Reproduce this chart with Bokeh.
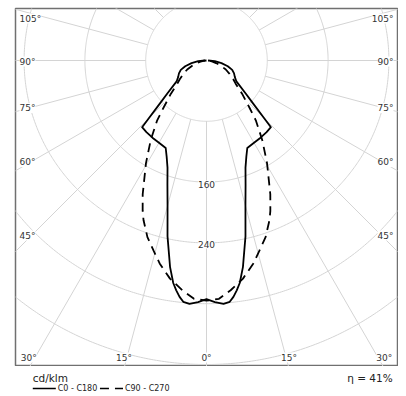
import numpy as np
from bokeh.plotting import figure
from bokeh.models import Range1d, Label
from bokeh.layouts import column
from bokeh.embed import file_html
from bokeh.resources import INLINE

# ---- data (cd/klm vs. angle from nadir, symmetric planes) ----
c0_angles = [0, 2, 4, 5.5, 6.5, 7.5, 8.5, 10, 12.5, 15, 17.5, 20, 22.5, 25, 30, 35, 40, 44,
             45, 47.5, 50, 55, 60, 65, 70, 75, 80, 85, 90]
c0_values = [314, 318, 321, 319, 313, 305, 296, 276, 237, 198, 171, 150, 137, 127, 125, 124,
             123, 122, 107, 82, 67, 48, 43, 40, 36, 29, 20, 11, 2]
c90_angles = [0, 3, 6, 9.5, 13, 15.5, 18.5, 21.5, 23, 25.5, 30.5, 35, 37, 39.5, 42.5,
              47, 51.5, 55, 60, 65, 70, 75, 80, 85, 90]
c90_values = [316, 314, 304, 291, 274, 260, 245, 226, 215, 195, 157, 128, 115, 102, 83,
              64, 49, 43, 35, 28, 20, 13, 8, 4, 0]
grid_radii = [80, 160, 240, 320, 400]
labelled_radii = ["160", "240"]
side_angles = [45, 60, 75, 90, 105]
bottom_angles = [0, 15, 30]
series_names = ["C0 - C180", "C90 - C270"]
unit_label = "cd/klm"
efficiency = "\u03b7 = 41%"

# ---- layout constants ----
S = 0.76              # px per cd/klm
FW, FH = 382, 358     # frame size in px
CX, CY = 191, 52      # polar centre inside frame (px from left / top)
ML, MT = 15, 8        # left / top border of the main figure
FONT = "DejaVu Sans"
GRID = "#d4d4d4"
TXT = "#333333"

p = figure(width=ML + FW + 1, height=MT + FH, output_backend="svg", toolbar_location=None,
           x_axis_type=None, y_axis_type=None,
           x_range=Range1d(-CX / S, (FW - CX) / S),
           y_range=Range1d(-(FH - CY) / S, CY / S),
           min_border_left=ML, min_border_right=1, min_border_top=MT, min_border_bottom=0)
p.outline_line_color = "#707070"
p.outline_line_width = 1.5
p.background_fill_color = "white"
p.border_fill_color = "white"

# circles
t = np.linspace(0, 2 * np.pi, 721)
p.multi_line([list(r * np.cos(t)) for r in grid_radii],
             [list(r * np.sin(t)) for r in grid_radii],
             line_color=GRID, line_width=1)

# radial lines every 15 deg, starting at the first circle
xs, ys = [], []
for a in range(0, 181, 15):
    ar = np.radians(a)
    for sgn in (-1, 1):
        xs.append([sgn * grid_radii[0] * np.sin(ar), sgn * 900 * np.sin(ar)])
        ys.append([-grid_radii[0] * np.cos(ar), -900 * np.cos(ar)])
p.multi_line(xs, ys, line_color=GRID, line_width=1)


def curve(angles, values):
    a = np.radians(np.array(angles, float))
    v = np.array(values, float)
    xl = -v[::-1] * np.sin(a[::-1])
    yl = -v[::-1] * np.cos(a[::-1])
    xr = v[1:] * np.sin(a[1:])
    yr = -v[1:] * np.cos(a[1:])
    return np.concatenate([xl, xr]), np.concatenate([yl, yr])


x0, y0 = curve(c0_angles, c0_values)
x9, y9 = curve(c90_angles, c90_values)
p.line(x9, y9, line_color="black", line_width=1.8, line_dash="9 6")
p.line(x0, y0, line_color="black", line_width=1.8, line_join="round")

# circle value labels
for lab in labelled_radii:
    r = float(lab)
    p.add_layout(Label(x=0, y=-r - 2 / S, text=lab, text_align="center",
                       text_baseline="middle", text_font=FONT, text_font_size="9px",
                       text_color=TXT, background_fill_color="white"))

# side angle labels
for a in side_angles:
    ar = np.radians(a)
    off = -174 * np.cos(ar) / np.sin(ar) - 1
    off = min(off, 42)
    for sgn, align in ((-1, "left"), (1, "right")):
        p.add_layout(Label(x=sgn * (CX - 4) / S, y=off / S, text=f"{a}\u00b0",
                           text_align=align, text_baseline="middle", text_font=FONT,
                           text_font_size="9px", text_color=TXT,
                           background_fill_color="white"))

# bottom angle labels
for a in bottom_angles:
    ar = np.radians(a)
    dx = 308 * np.tan(ar)
    sides = (1,) if a == 0 else (-1, 1)
    for sgn in sides:
        p.add_layout(Label(x=sgn * dx / S, y=-297 / S, text=f"{a}\u00b0",
                           text_align="center", text_baseline="middle", text_font=FONT,
                           text_font_size="9px", text_color=TXT,
                           background_fill_color="white"))

# ---- legend strip ----
q = figure(width=ML + FW + 1, height=28, output_backend="svg", toolbar_location=None,
           x_axis_type=None, y_axis_type=None,
           x_range=Range1d(0, ML + FW + 1), y_range=Range1d(28, 0), min_border=0)
q.outline_line_color = None
q.border_fill_color = "white"
q.add_layout(Label(x=18, y=11, text=unit_label, text_font=FONT, text_font_size="10.5px",
                   text_baseline="middle", text_color="#222222"))
q.add_layout(Label(x=393, y=11, text=efficiency, text_font=FONT, text_font_size="10.5px",
                   text_baseline="middle", text_align="right", text_color="#222222"))
q.line([18, 42], [22, 22], line_color="black", line_width=1.5)
q.add_layout(Label(x=44, y=22, text=series_names[0], text_font=FONT, text_font_size="8px",
                   text_baseline="middle", text_color="#222222"))
q.line([88, 112], [22, 22], line_color="black", line_width=1.5, line_dash="9 6")
q.add_layout(Label(x=114, y=22, text=series_names[1], text_font=FONT, text_font_size="8px",
                   text_baseline="middle", text_color="#222222"))

layout = column(p, q, spacing=0)
open("out.html", "w").write(file_html(layout, INLINE))
